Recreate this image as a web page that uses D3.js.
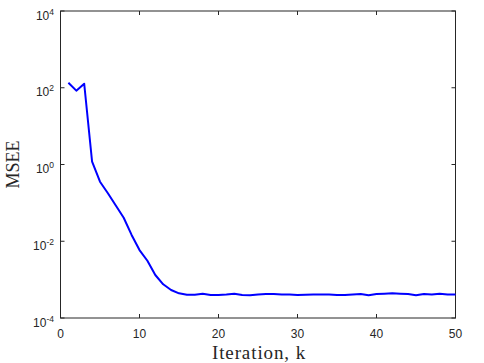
<!DOCTYPE html>
<html><head><meta charset="utf-8">
<script src="https://cdn.jsdelivr.net/npm/d3@7"></script>
<style>body{margin:0;background:#fff}svg{display:block}</style>
</head><body>
<script>
const iterations = d3.range(1, 51);
const msee = [135, 84, 127, 1.18, 0.356, 0.178, 0.085, 0.041, 0.0146, 0.0059,
  0.0031, 0.00132, 0.000755, 0.000537, 0.00044, 0.000405, 0.000405, 0.00043, 0.0004, 0.0004,
  0.00041, 0.00043, 0.0004, 0.00039, 0.00041, 0.00042, 0.00042, 0.00041, 0.00041, 0.0004,
  0.000405, 0.00041, 0.00041, 0.00041, 0.0004, 0.0004, 0.00041, 0.00042, 0.00039, 0.00042,
  0.00043, 0.00044, 0.00043, 0.00042, 0.00039, 0.00042, 0.00041, 0.00043, 0.00041, 0.00041];
const xTicks = [0, 10, 20, 30, 40, 50];
const yTickExps = [4, 2, 0, -2, -4];
const xLabel = "Iteration, k";
const yLabel = "MSEE";

const W = 484, H = 363;
const L = 60.5, R = 455.5, T = 11, B = 318;
const svg = d3.select("body").append("svg").attr("width", W).attr("height", H);
const x = d3.scaleLinear().domain([0, 50]).range([L, R]);
const y = d3.scaleLog().domain([1e-4, 1e4]).range([B, T]);
const axCol = "#262626";
const sans = "Liberation Sans, Arial, sans-serif";
const serif = "Liberation Serif, Times New Roman, serif";

// box
svg.append("rect").attr("x", L).attr("y", T).attr("width", R - L).attr("height", B - T)
  .attr("fill", "none").attr("stroke", axCol).attr("stroke-width", 1);

// x ticks
xTicks.forEach(t => {
  const px = x(t);
  svg.append("line").attr("x1", px).attr("x2", px).attr("y1", B).attr("y2", B - 4).attr("stroke", axCol);
  svg.append("line").attr("x1", px).attr("x2", px).attr("y1", T).attr("y2", T + 4).attr("stroke", axCol);
  svg.append("text").attr("x", px).attr("y", 338).attr("text-anchor", "middle")
    .attr("font-family", sans).attr("font-size", 12)
    .attr("fill", axCol).text(t);
});
// y ticks
yTickExps.forEach(e => {
  const py = y(Math.pow(10, e));
  svg.append("line").attr("x1", L).attr("x2", L + 4).attr("y1", py).attr("y2", py).attr("stroke", axCol);
  svg.append("line").attr("x1", R).attr("x2", R - 4).attr("y1", py).attr("y2", py).attr("stroke", axCol);
  const tx = svg.append("text").attr("x", 54).attr("y", py + 8.5).attr("text-anchor", "end")
    .attr("font-family", sans).attr("font-size", 12).attr("fill", axCol);
  tx.append("tspan").text("10");
  tx.append("tspan").attr("dy", -5).attr("font-size", 8.5).text(e);
});

// line
const line = d3.line().x((d, i) => x(iterations[i])).y(d => y(d));
svg.append("path").datum(msee).attr("d", line).attr("fill", "none")
  .attr("stroke", "#0000ff").attr("stroke-width", 2).attr("stroke-linejoin", "round");

// labels
svg.append("text").attr("x", (L + R) / 2 + 1).attr("y", 359).attr("text-anchor", "middle")
  .attr("font-family", serif).attr("font-size", 19).attr("letter-spacing", 0.9)
  .attr("fill", axCol).text(xLabel);
svg.append("text").attr("transform", `translate(19,${(T + B) / 2}) rotate(-90)`)
  .attr("text-anchor", "middle")
  .attr("font-family", serif).attr("font-size", 18)
  .attr("fill", axCol).text(yLabel);
</script>
</body></html>
